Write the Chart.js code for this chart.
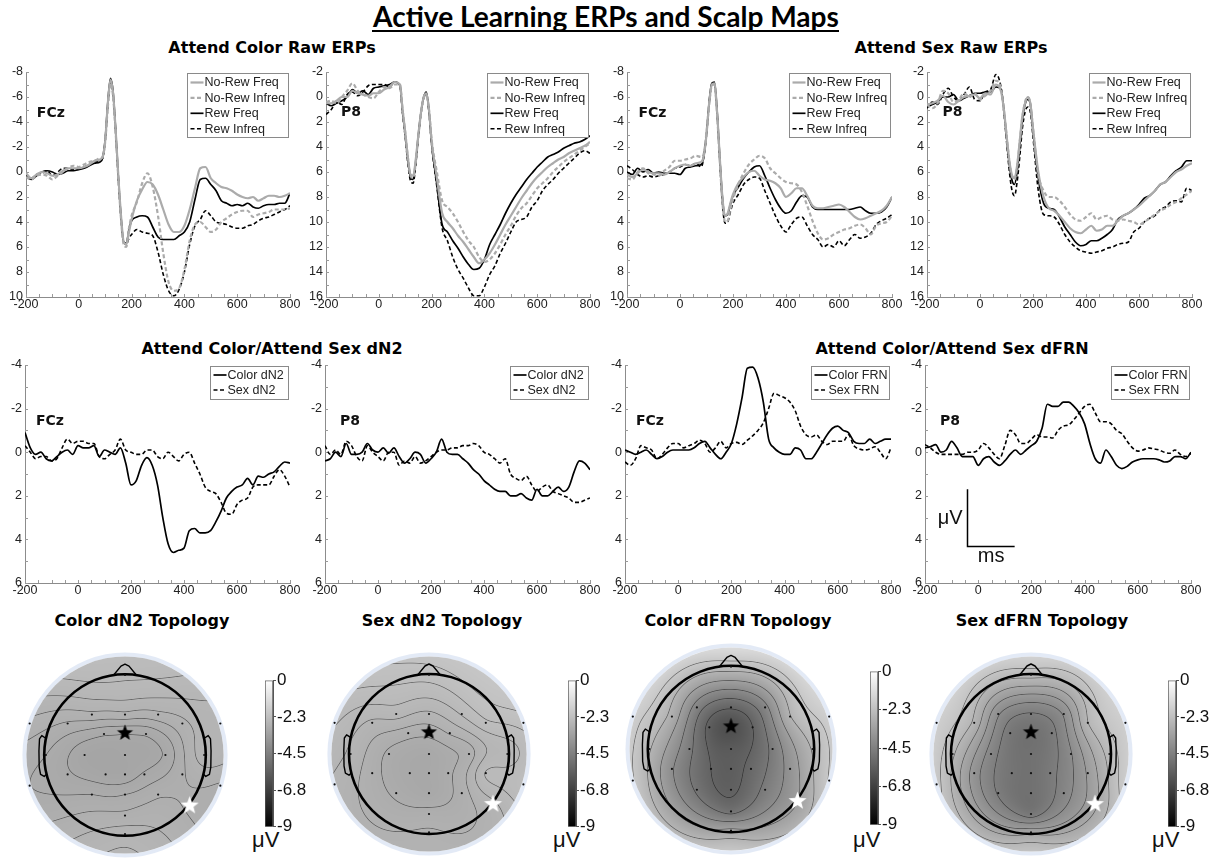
<!DOCTYPE html>
<html><head><meta charset="utf-8">
<script src="https://cdn.jsdelivr.net/npm/chart.js@4.4.1/dist/chart.umd.min.js"></script>
<style>
html,body{margin:0;padding:0;background:#fff}
body{position:relative;width:1211px;height:865px;overflow:hidden}
.hd{position:absolute;font:bold 16px "DejaVu Sans",sans-serif;line-height:16px;color:#000;white-space:nowrap;text-align:center}
.uv{position:absolute;font:22px "Liberation Sans",Arial,sans-serif;line-height:22px;color:#111;white-space:nowrap}
#mt{position:absolute;left:306px;width:600px;text-align:center;top:0px;font:bold 24px Lato,sans-serif;line-height:normal;white-space:nowrap;color:#000}
#mt span{display:inline-block}
#ul{position:absolute;left:372px;top:30px;width:467px;height:2px;background:#000}
</style></head>
<body>
<div id="mt"><span id="mtx">Active Learning ERPs and Scalp Maps</span><span id="mbl" style="width:0;height:0;vertical-align:baseline"></span></div>
<div id="ul"></div>
<div class="hd" style="left:62px;top:40px;width:420px">Attend Color Raw ERPs</div>
<div class="hd" style="left:741px;top:40px;width:420px">Attend Sex Raw ERPs</div>
<div class="hd" style="left:62px;top:341px;width:420px">Attend Color/Attend Sex dN2</div>
<div class="hd" style="left:742px;top:341px;width:420px">Attend Color/Attend Sex dFRN</div>
<div class="hd" style="left:-8px;top:613px;width:300px">Color dN2 Topology</div>
<div class="hd" style="left:292px;top:613px;width:300px">Sex dN2 Topology</div>
<div class="hd" style="left:588px;top:613px;width:300px">Color dFRN Topology</div>
<div class="hd" style="left:892px;top:613px;width:300px">Sex dFRN Topology</div>
<div class="uv" style="left:252px;top:829px">μV</div>
<div class="uv" style="left:553px;top:829px">μV</div>
<div class="uv" style="left:853px;top:829px">μV</div>
<div class="uv" style="left:1152px;top:829px">μV</div>
<script>
// ---------- time bases (ms) ----------
const times1 = [-200,-180,-160,-140,-120,-100,-80,-60,-40,-20,0,20,40,60,80,
  90,100,110,120,130,140,150,160,170,180,190,200,
  220,240,260,280,300,320,340,360,380,400,420,440,460,480,500,520,540,560,580,600,620,640,660,680,700,720,740,760,780,800];
const times2 = [-200,-180,-160,-140,-120,-100,-80,-60,-40,-20,0,20,40,60,80,100,120,140,160,180,
  200,220,240,260,280,300,320,340,360,380,400,420,440,460,480,500,520,540,560,580,
  600,620,640,660,680,700,720,740,760,780,800];

// ---------- Attend Color raw ERPs (µV) ----------
const colFCzNoRewFreq = [0.1,0.5,0.2,0.0,0.1,0.3,0.2,-0.1,-0.3,-0.3,-0.3,-0.4,-0.6,-0.9,-1.0,
  -1.2,-2.5,-5.5,-7.4,-6.3,-3.2,0.4,3.5,5.6,5.8,4.8,3.8,
  2.3,1.4,0.8,1.0,1.8,3.0,4.2,4.8,4.8,4.3,3.0,1.3,-0.3,-0.4,0.5,0.9,1.2,1.3,1.5,1.8,2.0,2.1,2.0,2.3,2.1,1.9,1.9,2.0,1.9,1.7];
const colFCzNoRewInfreq = [0.4,0.6,0.3,0.2,0.3,0.6,0.3,0.0,-0.3,-0.5,-0.4,-0.6,-0.8,-0.9,-1.1,
  -1.2,-2.4,-5.2,-7.1,-6.0,-3.0,0.6,3.8,5.8,6.0,4.5,3.5,
  2.4,0.9,0.1,1.2,3.5,6.5,8.8,9.5,9.3,7.8,5.5,4.2,4.0,4.4,4.8,4.6,4.0,3.7,3.4,3.2,3.1,3.1,3.6,3.4,3.3,3.2,3.0,3.0,3.0,2.9];
const colFCzRewFreq = [0.3,0.6,0.3,0.0,-0.1,0.0,0.2,0.1,-0.1,-0.1,-0.2,-0.3,-0.5,-0.7,-0.8,
  -1.1,-2.6,-5.6,-7.5,-6.4,-3.2,0.5,3.6,5.6,5.7,4.6,3.9,
  3.6,3.5,3.6,4.4,5.2,5.4,5.4,5.4,5.1,4.8,4.0,2.2,0.6,0.5,1.0,1.5,2.3,2.5,2.7,2.6,2.7,2.5,2.8,2.9,2.7,2.6,2.6,2.5,2.5,1.7];
const colFCzRewInfreq = [0.2,0.5,0.2,0.1,-0.1,0.3,0.0,-0.3,-0.3,-0.2,-0.2,-0.4,-0.6,-0.8,-0.9,
  -1.1,-2.5,-5.3,-7.2,-6.2,-3.1,0.6,3.7,5.6,5.8,5.3,5.0,
  4.6,4.8,4.9,5.1,6.4,8.2,9.5,9.9,9.4,8.0,5.8,4.3,3.8,3.1,3.5,4.0,4.1,4.2,4.4,4.5,4.5,4.3,4.2,3.9,3.7,3.6,3.4,3.2,3.0,2.7];

const colP8NoRewFreq = [0.5,0.5,0.3,0.0,0.0,-0.5,-0.3,-0.2,-0.1,-0.3,-0.3,-0.6,-0.8,-1.2,-1.0,
  1.0,2.8,4.8,6.2,6.3,5.0,3.0,1.2,0.0,-0.3,1.0,3.5,
  6.5,9.3,10.0,10.5,11.1,11.6,12.2,12.8,13.3,13.0,12.5,11.8,11.0,10.2,9.5,8.8,8.1,7.5,6.9,6.4,6.0,5.6,5.3,5.0,4.8,4.5,4.3,4.1,3.9,3.6];
const colP8NoRewInfreq = [0.4,0.3,0.5,0.0,-0.5,-1.1,-0.5,-0.2,0.0,0.1,-0.4,-0.8,-0.7,-1.0,-1.0,
  1.0,2.8,4.8,6.3,6.5,5.2,3.1,1.3,0.1,-0.2,1.0,3.4,
  6.0,8.3,8.8,9.3,10.0,10.8,11.5,12.0,12.8,13.2,13.0,12.5,11.8,11.0,10.3,9.5,8.9,8.5,7.9,7.3,6.9,6.5,6.0,5.6,5.2,4.9,4.6,4.3,4.0,3.7];
const colP8RewFreq = [0.5,0.7,0.5,0.3,0.0,-0.6,-0.3,-0.5,-0.2,-0.7,-0.8,-0.9,-1.0,-1.2,-0.9,
  1.2,3.0,5.0,6.4,6.6,5.2,3.0,1.2,0.0,-0.4,1.1,3.7,
  7.0,10.2,10.8,11.5,12.1,12.8,13.4,13.8,13.7,13.0,11.8,11.0,10.2,9.3,8.5,7.8,7.2,6.6,6.1,5.6,5.2,4.8,4.6,4.4,4.1,3.9,3.7,3.6,3.4,3.1];
const colP8RewInfreq = [1.4,1.0,0.4,0.6,-0.2,-0.4,-0.1,-0.4,-0.9,-1.0,-1.0,-1.0,-0.8,-1.2,-0.9,
  1.3,3.2,5.3,6.7,6.9,5.4,3.2,1.3,0.1,-0.2,1.2,3.8,
  7.2,10.5,11.5,12.8,13.8,14.5,15.3,15.9,15.9,15.2,14.2,13.5,12.5,11.7,10.8,10.0,9.8,9.6,8.8,8.3,7.5,7.0,6.6,6.1,5.7,5.3,4.9,4.5,4.3,4.5];

// ---------- Attend Sex raw ERPs (µV) ----------
const sexFCzNoRewFreq = [0.2,0.4,0.1,-0.2,0.0,0.1,0.1,0.2,0.0,-0.3,-0.5,-0.6,-0.5,-0.7,-0.8,
  -1.3,-3.0,-5.5,-7.0,-7.1,-4.8,-1.2,2.0,3.5,3.3,2.5,1.8,
  0.9,0.4,0.0,-0.1,0.3,0.6,0.7,0.9,1.3,2.0,1.7,1.3,1.3,1.9,2.7,2.9,2.9,2.8,2.7,2.6,2.8,3.2,3.6,3.8,3.7,3.5,3.3,3.1,2.7,2.0];
const sexFCzNoRewInfreq = [0.5,0.6,0.0,-0.3,0.1,0.2,0.3,-0.1,-0.4,-0.9,-0.9,-1.0,-1.1,-1.3,-1.2,
  -1.5,-3.2,-5.4,-6.9,-7.0,-4.6,-0.9,2.4,4.0,3.9,3.0,2.2,
  1.0,0.1,-0.6,-1.0,-1.3,-1.1,-0.3,0.1,0.5,0.8,0.9,1.0,1.6,2.7,3.9,4.9,5.4,5.3,5.0,4.8,4.6,4.5,4.3,4.2,4.5,5.0,4.3,4.1,4.0,3.5];
const sexFCzRewFreq = [0.0,0.2,-0.3,0.0,-0.2,0.1,0.0,0.1,0.1,0.1,0.2,-0.3,-0.4,-0.5,-0.6,
  -1.3,-3.0,-5.6,-7.1,-7.2,-4.9,-1.2,2.0,3.5,3.4,2.6,1.9,
  1.2,0.5,0.0,-0.4,-0.5,0.3,1.3,2.2,2.9,3.3,3.1,2.4,1.9,2.0,2.8,3.0,3.0,3.0,3.0,3.0,3.0,3.0,2.9,2.8,3.1,3.3,3.3,3.2,2.8,2.0];
const sexFCzRewInfreq = [-0.5,-0.2,0.2,0.4,0.3,0.4,0.3,0.2,0.0,-0.3,-0.4,-0.6,-0.5,-0.7,-0.4,
  -1.2,-3.0,-5.5,-7.0,-7.0,-4.7,-0.9,2.5,4.1,4.0,3.2,2.5,
  1.8,1.0,0.6,0.4,0.5,1.5,2.5,3.5,4.3,4.8,4.2,3.7,3.6,4.3,5.0,5.4,6.0,5.8,6.0,5.5,5.9,5.4,5.0,5.3,5.2,4.9,4.2,3.9,3.7,3.4];

const sexP8NoRewFreq = [0.6,0.5,0.3,-0.1,0.4,0.6,0.3,0.0,-0.1,-0.2,0.1,-0.3,-0.2,-1.0,-0.4,
  1.0,3.0,5.0,6.2,6.5,5.5,3.5,1.5,0.5,0.0,0.5,2.5,
  6.0,8.0,8.9,9.1,9.5,10.0,10.5,10.8,10.9,10.6,10.3,10.7,10.6,10.3,10.3,9.9,9.5,9.3,9.0,8.7,8.3,7.9,7.5,7.0,6.8,6.4,6.0,5.8,5.5,5.3];
const sexP8NoRewInfreq = [0.6,0.9,0.5,-0.5,-0.3,0.4,0.2,-0.3,0.0,-0.3,0.2,-0.1,-0.5,-1.3,-0.6,
  1.0,3.0,5.0,6.3,6.6,5.6,3.6,1.6,0.4,0.0,0.5,2.5,
  6.2,7.5,8.0,8.0,8.3,8.8,9.4,9.8,9.9,9.6,9.3,9.8,9.6,9.5,9.8,9.9,9.8,9.9,10.0,10.2,10.0,9.7,9.4,9.1,8.9,8.6,8.4,8.1,7.8,7.5];
const sexP8RewFreq = [0.8,0.6,0.4,0.0,0.0,-0.2,0.3,0.1,-0.1,-0.3,-0.3,-0.4,-0.4,-0.8,-0.6,
  1.0,3.2,5.3,6.6,7.0,6.0,4.0,1.8,0.6,0.2,0.6,2.7,
  6.5,8.5,8.9,9.0,9.6,10.4,11.0,11.6,11.9,11.8,11.5,11.5,11.3,11.0,10.6,9.8,9.5,9.3,9.0,8.6,8.1,7.9,7.5,7.0,6.8,6.3,5.9,5.6,5.1,5.1];
const sexP8RewInfreq = [0.9,0.4,0.6,-0.2,-0.7,0.0,0.3,-0.2,-0.8,0.2,0.3,-0.4,-0.6,-1.8,-0.7,
  1.2,3.5,5.8,7.4,7.9,6.8,4.8,2.5,1.2,0.8,1.2,3.2,
  7.5,9.4,9.5,9.6,10.2,11.0,11.6,12.0,12.3,12.4,12.5,12.4,12.3,12.1,12.0,11.8,11.7,11.6,10.8,10.5,10.0,9.7,9.5,9.0,8.8,8.4,8.3,8.4,7.3,7.5];

// ---------- difference waves (µV) ----------
const dn2FCzColor = [-0.9,-0.2,0.1,0.0,0.3,0.4,0.2,0.0,-0.1,0.1, -0.3,-0.2,-0.2,-0.3,0.2,-0.1,0.0,0.1,-0.2,0.5,
  1.5,1.3,0.6,0.25,0.6,1.5,3.0,4.2,4.6,4.5, 4.4,3.6,3.5,3.7,3.7,3.6,3.2,2.7,2.1,1.8,
  1.6,1.5,1.2,1.5,1.1,1.15,1.0,0.9,0.65,0.45, 0.5];
const dn2FCzSex = [-0.3,0.0,0.3,0.2,0.2,0.4,0.3,-0.2,-0.6,-0.4, -0.5,-0.5,-0.4,-0.4,0.2,0.3,0.1,-0.1,-0.6,-0.1,
  0.0,0.1,0.1,-0.1,-0.1,0.2,0.3,0.0,0.2,0.4, 0.1,0.0,0.5,1.0,1.6,1.8,1.9,2.3,2.8,2.85,
  2.4,2.2,2.1,1.6,1.5,1.5,1.5,1.1,0.8,1.1, 1.6];
const dn2P8Color = [0.4,0.3,0.0,0.2,-0.4,0.1,0.1,0.0,-0.4,-0.1, 0.0,-0.2,0.05,-0.2,0.2,0.5,0.3,0.0,0.1,0.5,
  0.3,0.0,-0.6,0.0,0.1,0.1,0.3,0.5,0.8,1.0, 1.3,1.5,1.7,1.8,1.8,2.0,2.0,1.9,2.1,2.2,
  1.7,2.0,2.0,1.8,1.6,1.8,1.6,0.9,0.4,0.5, 0.8];
const dn2P8Sex = [-0.3,0.1,-0.1,0.1,-0.5,-0.3,0.2,0.4,-0.3,0.0, 0.2,0.4,0.0,0.0,0.6,0.4,0.5,0.2,0.5,0.4,
  0.2,0.0,-0.1,-0.1,-0.2,-0.2,-0.3,-0.3,-0.4,-0.3, 0.0,0.1,0.3,0.5,0.3,1.0,1.2,1.3,1.1,1.5,
  1.8,1.6,1.5,1.8,1.9,2.0,2.1,2.3,2.3,2.2, 2.1];
const frnFCzColor = [-0.1,0.0,0.1,0.0,-0.1,0.1,0.3,0.2,0.0,-0.1, -0.1,-0.1,-0.1,-0.2,-0.4,-0.5,-0.2,0.1,0.3,0.0,
  -0.4,-1.3,-2.5,-3.85,-3.9,-3.4,-2.3,-0.6,-0.2,0.0, 0.1,0.1,-0.2,-0.1,0.3,0.3,0.0,-0.4,-0.8,-1.1,
  -1.2,-1.0,-0.9,-0.5,-0.4,-0.4,-0.6,-0.4,-0.5,-0.6, -0.6];
const frnFCzSex = [0.45,0.6,0.3,-0.3,-0.2,-0.1,0.3,0.1,-0.2,-0.4, -0.4,-0.2,-0.3,-0.4,-0.55,-0.4,0.0,-0.2,-0.5,-0.2,
  -0.4,-0.45,-0.35,-0.55,-0.75,-1.0,-1.35,-2.0,-2.7,-2.6, -2.5,-2.3,-1.9,-1.2,-0.8,-0.7,-0.8,-0.5,-0.35,-0.5,
  -0.5,-0.5,-0.8,-0.3,-0.15,-0.1,-0.15,-0.25,0.0,0.3, -0.2];
const frnP8Color = [-0.2,-0.25,-0.35,0.0,-0.1,-0.5,-0.2,0.2,0.2,0.2, 0.6,0.3,0.2,0.45,0.6,0.4,0.1,-0.1,0.1,-0.1,
  -0.3,-0.5,-1.1,-2.2,-2.1,-2.1,-2.3,-2.3,-2.1,-1.8, -1.3,-0.4,0.3,0.5,-0.1,0.2,0.6,0.75,0.65,0.45,
  0.35,0.3,0.3,0.3,0.35,0.45,0.4,0.2,0.2,0.3, 0.0];
const frnP8Sex = [-0.35,-0.2,0.0,0.1,0.1,0.1,0.1,0.1,0.0,0.0, -0.1,-0.4,-0.2,0.1,0.3,-0.3,-1.0,-0.8,-0.4,-0.4,
  -0.6,-0.8,-0.7,-0.7,-0.65,-1.0,-1.2,-1.25,-1.5,-1.8, -2.1,-2.2,-1.8,-1.4,-1.4,-1.3,-1.0,-0.85,-0.5,-0.2,
  -0.05,-0.1,-0.2,-0.15,-0.1,0.0,0.05,-0.1,0.1,0.2, 0.05];

const rawLabels = ['No-Rew Freq','No-Rew Infreq','Rew Freq','Rew Infreq'];
const dn2Labels = ['Color dN2','Sex dN2'];
const frnLabels = ['Color FRN','Sex FRN'];

// ---------- scalp electrodes (unit = head radius, +y = nose) ----------
const elecName = ['Fp','F3','Fz','F4','FT9','F7','F8','FT10','FC1','FCz','FC2','T7','C3','Cz','C4','T8',
  'CP5','CP1','CPz','CP2','CP6','TP9','TP10','P3','Pz','P4','P8','POz','Oz'];
const elecX = [0,-0.41,0,0.41,-1.18,-0.71,0.71,1.18,-0.26,0,0.26,-0.98,-0.5,0,0.5,0.98,
  -0.71,-0.24,0,0.24,0.71,-1.18,1.18,-0.41,0,0.41,0.8,0,0];
const elecY = [0.99,0.5,0.5,0.5,0.39,0.39,0.39,0.39,0.26,0.28,0.26,0,0,0,0,0,
  -0.24,-0.24,-0.24,-0.24,-0.24,-0.38,-0.38,-0.49,-0.49,-0.49,-0.62,-0.75,-0.98];
const topoColorDN2 = [-2.45,-2.75,-2.75,-2.75,-2.75,-2.85,-2.75,-2.65,-3.05,-3.05,-3.05,-2.95,-3.15,-3.15,-3.05,-2.65,
  -3.05,-3.15,-3.15,-3.05,-2.85,-2.95,-2.85,-2.95,-2.95,-2.85,-2.85,-2.8,-2.65];
const topoSexDN2 = [-2.25,-2.55,-2.65,-2.45,-2.45,-2.65,-2.35,-2.25,-2.85,-2.85,-2.75,-2.65,-2.95,-3.05,-2.85,-2.55,
  -2.85,-3.05,-3.05,-2.95,-2.45,-2.65,-2.35,-2.95,-3.05,-2.85,-2.65,-2.85,-2.75];
const topoColorFRN = [-2.3,-4.4,-5.4,-4.3,-1.7,-2.9,-2.7,-1.7,-5.7,-6.2,-5.5,-2.6,-4.6,-5.8,-4.6,-2.6,
  -4.0,-5.5,-5.7,-5.3,-3.8,-1.9,-1.9,-4.9,-5.6,-4.6,-3.4,-5.0,-3.2];
const topoSexFRN = [-2.4,-4.0,-4.6,-4.0,-1.7,-2.7,-2.6,-1.7,-4.8,-5.0,-4.7,-2.5,-4.3,-5.0,-4.1,-2.4,
  -3.8,-4.9,-5.0,-4.7,-3.5,-1.9,-1.8,-4.6,-5.0,-4.3,-3.2,-4.8,-3.2];
const starBlack = 'FCz', starWhite = 'P8';

// colour bar
const cbMin = -9, cbMax = 0;
const cbTicks = [-9,-6.75,-4.5,-2.25,0];
const cbLabels = ['-9','-6.8','-4.5','-2.3','0'];

// ---------- main title: fit width, put baseline at y=27 ----------
(function(){
  const mt = document.getElementById('mt');
  const s = document.getElementById('mtx');
  const w = s.getBoundingClientRect().width;
  mt.style.fontSize = (24 * 466 / w) + 'px';
  mt.style.top = '0px';
  const b = document.getElementById('mbl').getBoundingClientRect().bottom;
  mt.style.top = (27 - b) + 'px';
})();

Chart.defaults.font.family = '"Liberation Sans", Arial, sans-serif';
Chart.defaults.color = '#222';

// ---------- plugins ----------
const innerTicks = {
  id: 'innerTicks',
  beforeDatasetsDraw(chart) {
    const {ctx, chartArea: a, scales: {x, y}} = chart;
    ctx.save();
    ctx.strokeStyle = '#9a9a9a'; ctx.lineWidth = 1;
    ctx.beginPath();
    x.ticks.forEach(t => {
      const px = Math.round(x.getPixelForValue(t.value)) + 0.5;
      ctx.moveTo(px, a.bottom); ctx.lineTo(px, a.bottom - 3);
    });
    y.ticks.forEach(t => {
      const py = Math.round(y.getPixelForValue(t.value)) + 0.5;
      ctx.moveTo(a.left, py); ctx.lineTo(a.left + 3, py);
    });
    ctx.stroke();
    ctx.restore();
  }
};

const boxLegend = {
  id: 'boxLegend',
  afterDatasetsDraw(chart, args, o) {
    if (!o || !o.w) return;
    const {ctx, chartArea: a} = chart;
    const ds = chart.data.datasets;
    const x0 = Math.round(a.right - o.w - 2) + 0.5, y0 = Math.round(a.top + 1) + 0.5;
    ctx.save();
    ctx.fillStyle = '#fff';
    ctx.fillRect(x0, y0, o.w, o.h);
    ctx.strokeStyle = '#8a8a8a'; ctx.lineWidth = 1;
    ctx.strokeRect(x0, y0, o.w, o.h);
    ctx.font = '12.5px "Liberation Sans", Arial, sans-serif';
    ctx.textBaseline = 'middle';
    ds.forEach((d, i) => {
      const yy = y0 + o.first + i * o.row;
      ctx.beginPath();
      ctx.setLineDash(d.borderDash || []);
      ctx.strokeStyle = d.borderColor; ctx.lineWidth = d.borderWidth;
      ctx.moveTo(x0 + 3, yy); ctx.lineTo(x0 + 16, yy); ctx.stroke();
      ctx.setLineDash([]);
      ctx.fillStyle = '#222';
      ctx.fillText(d.label, x0 + 17, yy + 0.5);
    });
    ctx.restore();
  }
};

const siteLabel = {
  id: 'siteLabel',
  afterDatasetsDraw(chart, args, o) {
    if (!o || !o.text) return;
    const {ctx, scales: {x, y}} = chart;
    ctx.save();
    ctx.font = 'bold 14px "DejaVu Sans", sans-serif';
    ctx.fillStyle = '#111'; ctx.textAlign = 'center'; ctx.textBaseline = 'middle';
    ctx.fillText(o.text, x.getPixelForValue(o.x), y.getPixelForValue(o.y));
    ctx.restore();
  }
};

const scaleBar = {
  id: 'scaleBar',
  afterDatasetsDraw(chart, args, o) {
    if (!o || !o.show) return;
    const {ctx, scales: {x, y}} = chart;
    const px0 = Math.round(x.getPixelForValue(o.x0)) + 0.5, px1 = x.getPixelForValue(o.x1);
    const pyT = y.getPixelForValue(o.yTop), pyB = Math.round(y.getPixelForValue(o.yBot)) + 0.5;
    ctx.save();
    ctx.strokeStyle = '#000'; ctx.lineWidth = 1.5;
    ctx.beginPath(); ctx.moveTo(px0, pyT); ctx.lineTo(px0, pyB); ctx.lineTo(px1, pyB); ctx.stroke();
    ctx.fillStyle = '#111';
    ctx.font = '20px "Liberation Sans", Arial, sans-serif';
    ctx.textAlign = 'right'; ctx.textBaseline = 'middle';
    ctx.fillText('μV', px0 - 5, (pyT + pyB) / 2 + 1);
    ctx.textAlign = 'center'; ctx.textBaseline = 'top';
    ctx.fillText('ms', (px0 + px1) / 2, pyB);
    ctx.restore();
  }
};

// ---------- ERP panels ----------
const styles = {
  greySolid: {color: '#ababab', width: 2.2, dash: []},
  greyDash:  {color: '#ababab', width: 2.2, dash: [4, 2.5]},
  blackSolid:{color: '#000', width: 1.7, dash: []},
  blackDash: {color: '#000', width: 1.6, dash: [4, 2.5]}
};

function erpPanel(o) {
  const [pl, pr, pt, pb] = o.box;
  const padTop = 14;
  const L = pl - 28, T = pt - padTop, W = pr - pl + 40, H = pb - pt + padTop + 20;
  const cv = document.createElement('canvas');
  cv.width = W; cv.height = H;
  cv.style.cssText = `position:absolute;left:${L}px;top:${T}px;width:${W}px;height:${H}px`;
  document.body.appendChild(cv);
  const tickFont = {size: 12.5};
  new Chart(cv, {
    type: 'line',
    data: {
      datasets: o.series.map((s, k) => ({
        label: o.labels[k],
        data: o.times.map((t, i) => ({x: t, y: s.values[i]})),
        borderColor: s.style.color, borderWidth: s.style.width, borderDash: s.style.dash,
        pointRadius: 0, fill: false, cubicInterpolationMode: 'monotone'
      }))
    },
    options: {
      responsive: false, animation: false, devicePixelRatio: 1,
      layout: {padding: {top: padTop, right: 12, left: 0, bottom: 0}},
      scales: {
        x: {
          type: 'linear', min: -200, max: 800,
          afterFit: s => { s.height = 20; },
          ticks: {stepSize: 50, maxTicksLimit: 100, autoSkip: false, maxRotation: 0, padding: 0, font: tickFont, color: '#222',
                  callback: v => (v % 200 === 0 ? String(v) : '')},
          grid: {display: false, drawTicks: false, tickLength: 0},
          border: {display: true, color: '#8c8c8c'}
        },
        y: {
          type: 'linear', reverse: true, min: o.yMin, max: o.yMax,
          afterFit: s => { s.width = 28; },
          ticks: {stepSize: 1, maxTicksLimit: 100, autoSkip: false, padding: 3, font: tickFont, color: '#222',
                  callback: v => (v % 2 === 0 ? String(v) : '')},
          grid: {display: false, drawTicks: false, tickLength: 0},
          border: {display: true, color: '#8c8c8c'}
        }
      },
      plugins: {
        legend: {display: false}, tooltip: {enabled: false},
        boxLegend: o.legend, siteLabel: o.site, scaleBar: o.bar || {show: false}
      }
    },
    plugins: [innerTicks, boxLegend, siteLabel, scaleBar]
  });
}

const legRaw = {w: 101, h: 64, first: 9, row: 15.4};
const legDiff = {w: 78, h: 33, first: 8.5, row: 15};
const rawStyles = [styles.greySolid, styles.greyDash, styles.blackSolid, styles.blackDash];

erpPanel({box: [26, 290, 72, 297], times: times1, yMin: -8, yMax: 10, labels: rawLabels, legend: legRaw,
  site: {text: 'FCz', x: -106, y: -4.7},
  series: [colFCzNoRewFreq, colFCzNoRewInfreq, colFCzRewFreq, colFCzRewInfreq].map((v, k) => ({values: v, style: rawStyles[k]}))});
erpPanel({box: [326, 590, 72, 297], times: times1, yMin: -2, yMax: 16, labels: rawLabels, legend: legRaw,
  site: {text: 'P8', x: -105, y: 1.25},
  series: [colP8NoRewFreq, colP8NoRewInfreq, colP8RewFreq, colP8RewInfreq].map((v, k) => ({values: v, style: rawStyles[k]}))});
erpPanel({box: [627, 892, 72, 297], times: times1, yMin: -8, yMax: 10, labels: rawLabels, legend: legRaw,
  site: {text: 'FCz', x: -104, y: -4.7},
  series: [sexFCzNoRewFreq, sexFCzNoRewInfreq, sexFCzRewFreq, sexFCzRewInfreq].map((v, k) => ({values: v, style: rawStyles[k]}))});
erpPanel({box: [927, 1192, 72, 297], times: times1, yMin: -2, yMax: 16, labels: rawLabels, legend: legRaw,
  site: {text: 'P8', x: -104, y: 1.25},
  series: [sexP8NoRewFreq, sexP8NoRewInfreq, sexP8RewFreq, sexP8RewInfreq].map((v, k) => ({values: v, style: rawStyles[k]}))});

const diffStyles = [styles.blackSolid, styles.blackDash];
erpPanel({box: [25, 290, 365, 583], times: times2, yMin: -4, yMax: 6, labels: dn2Labels, legend: legDiff,
  site: {text: 'FCz', x: -106, y: -1.4},
  series: [dn2FCzColor, dn2FCzSex].map((v, k) => ({values: v, style: diffStyles[k]}))});
erpPanel({box: [325, 590, 365, 583], times: times2, yMin: -4, yMax: 6, labels: dn2Labels, legend: legDiff,
  site: {text: 'P8', x: -106, y: -1.4},
  series: [dn2P8Color, dn2P8Sex].map((v, k) => ({values: v, style: diffStyles[k]}))});
erpPanel({box: [625, 891, 365, 583], times: times2, yMin: -4, yMax: 6, labels: frnLabels, legend: legDiff,
  site: {text: 'FCz', x: -106, y: -1.4},
  series: [frnFCzColor, frnFCzSex].map((v, k) => ({values: v, style: diffStyles[k]}))});
erpPanel({box: [925, 1191, 365, 583], times: times2, yMin: -4, yMax: 6, labels: frnLabels, legend: legDiff,
  site: {text: 'P8', x: -106, y: -1.4},
  bar: {show: true, x0: -42, x1: 137, yTop: 1.7, yBot: 4.3},
  series: [frnP8Color, frnP8Sex].map((v, k) => ({values: v, style: diffStyles[k]}))});

// ---------- scalp maps ----------
function starImage(r, fill) {
  const c = document.createElement('canvas');
  const s = Math.ceil(r * 2 + 2);
  c.width = c.height = s;
  const g = c.getContext('2d');
  g.beginPath();
  for (let k = 0; k < 10; k++) {
    const a = -Math.PI / 2 + k * Math.PI / 5;
    const rr = k % 2 === 0 ? r : r * 0.42;
    g.lineTo(s / 2 + rr * Math.cos(a), s / 2 + rr * Math.sin(a) + 0.6);
  }
  g.closePath();
  g.fillStyle = fill; g.fill();
  return c;
}
const blackStarImg = starImage(8.5, '#000');
const whiteStarImg = starImage(9.5, '#fff');

// thin-plate spline through the electrode values
function tpsFit(xs, ys, vs) {
  const n = xs.length, m = n + 3;
  const phi = d2 => (d2 < 1e-12 ? 0 : 0.5 * d2 * Math.log(d2));
  const A = [];
  for (let i = 0; i < m; i++) A.push(new Float64Array(m + 1));
  for (let i = 0; i < n; i++) {
    for (let j = 0; j < n; j++) {
      const dx = xs[i] - xs[j], dy = ys[i] - ys[j];
      A[i][j] = phi(dx * dx + dy * dy) + (i === j ? 0.002 : 0);
    }
    A[i][n] = 1; A[i][n + 1] = xs[i]; A[i][n + 2] = ys[i];
    A[n][i] = 1; A[n + 1][i] = xs[i]; A[n + 2][i] = ys[i];
    A[i][m] = vs[i];
  }
  for (let c = 0; c < m; c++) {
    let p = c;
    for (let r = c + 1; r < m; r++) if (Math.abs(A[r][c]) > Math.abs(A[p][c])) p = r;
    [A[c], A[p]] = [A[p], A[c]];
    for (let r = 0; r < m; r++) {
      if (r === c) continue;
      const f = A[r][c] / A[c][c];
      if (f === 0) continue;
      for (let k = c; k <= m; k++) A[r][k] -= f * A[c][k];
    }
  }
  const coef = new Float64Array(m);
  for (let i = 0; i < m; i++) coef[i] = A[i][m] / A[i][i];
  return (px, py) => {
    let s = coef[n] + coef[n + 1] * px + coef[n + 2] * py;
    for (let i = 0; i < n; i++) {
      const dx = px - xs[i], dy = py - ys[i];
      s += coef[i] * phi(dx * dx + dy * dy);
    }
    return s;
  };
}

const topoField = {
  id: 'topoField',
  beforeDatasetsDraw(chart, args, o) {
    const {ctx, scales: {x, y}} = chart;
    const cx = x.getPixelForValue(0), cy = y.getPixelForValue(0);
    const u = x.getPixelForValue(1) - cx;
    const R = o.diskR;
    const f = tpsFit(elecX, elecY, o.values);
    ctx.save();
    // pale rim around the interpolation disk
    ctx.beginPath(); ctx.arc(cx, cy, R * u + 2, 0, 2 * Math.PI);
    ctx.strokeStyle = 'rgba(226,233,246,0.95)'; ctx.lineWidth = 4; ctx.stroke();
    // interpolated potential field
    const x0 = Math.floor(cx - R * u) - 2, y0 = Math.floor(cy - R * u) - 2;
    const n = Math.ceil(2 * R * u) + 5;
    const val = new Float32Array(n * n), ins = new Uint8Array(n * n);
    let fmin = Infinity, fmax = -Infinity;
    for (let j = 0; j < n; j++) {
      for (let i = 0; i < n; i++) {
        const vx = x.getValueForPixel(x0 + i + 0.5), vy = y.getValueForPixel(y0 + j + 0.5);
        if (vx * vx + vy * vy > (R + 0.04) * (R + 0.04)) continue;
        const v = f(vx, vy);
        val[j * n + i] = v; ins[j * n + i] = 1;
        if (vx * vx + vy * vy <= R * R) { fmin = Math.min(fmin, v); fmax = Math.max(fmax, v); }
      }
    }
    const nLev = 7, step = (fmax - fmin) / nLev;
    const off = document.createElement('canvas'); off.width = off.height = n;
    const octx = off.getContext('2d');
    const img = octx.createImageData(n, n);
    for (let j = 1; j < n - 1; j++) {
      for (let i = 1; i < n - 1; i++) {
        const idx = j * n + i;
        if (!ins[idx]) continue;
        const v = val[idx];
        let g = 255 * (v - cbMin) / (cbMax - cbMin);
        g = Math.max(0, Math.min(255, g));
        // contour lines: distance (px) to the nearest level
        const gx = ins[idx + 1] && ins[idx - 1] ? (val[idx + 1] - val[idx - 1]) / 2 : 0;
        const gy = ins[idx + n] && ins[idx - n] ? (val[idx + n] - val[idx - n]) / 2 : 0;
        const gm = Math.hypot(gx, gy);
        const t = (v - fmin) / step, k = Math.round(t);
        if (gm > 1e-6 && k >= 1 && k < nLev) {
          const dpx = Math.abs(t - k) * step / gm;
          const a = Math.max(0, 1 - dpx / 0.8);
          g = g * (1 - 0.42 * a);
        }
        const p = idx * 4;
        img.data[p] = g; img.data[p + 1] = g; img.data[p + 2] = g; img.data[p + 3] = 255;
      }
    }
    octx.putImageData(img, 0, 0);
    ctx.save();
    ctx.beginPath(); ctx.arc(cx, cy, R * u, 0, 2 * Math.PI); ctx.clip();
    ctx.drawImage(off, x0, y0);
    ctx.restore();
    // head outline, nose and ears
    const P = (a, b) => [x.getPixelForValue(a), y.getPixelForValue(b)];
    ctx.strokeStyle = '#000'; ctx.lineJoin = 'round'; ctx.lineCap = 'round';
    ctx.lineWidth = 1.4;
    const nose = [[-0.14, 0.99], [-0.05, 1.1], [0, 1.125], [0.05, 1.1], [0.14, 0.99]];
    ctx.beginPath(); nose.forEach((q, k) => { const [a, b] = P(q[0], q[1]); k ? ctx.lineTo(a, b) : ctx.moveTo(a, b); }); ctx.stroke();
    const ear = [[-0.985, 0.21], [-1.03, 0.24], [-1.058, 0.2], [-1.065, 0.05], [-1.062, -0.15], [-1.045, -0.24], [-1.0, -0.265], [-0.975, -0.24]];
    [1, -1].forEach(sg => {
      ctx.beginPath();
      ear.forEach((q, k) => { const [a, b] = P(sg * q[0], q[1]); k ? ctx.lineTo(a, b) : ctx.moveTo(a, b); });
      ctx.stroke();
    });
    ctx.lineWidth = 2.6;
    ctx.beginPath(); ctx.arc(cx, cy, u, 0, 2 * Math.PI); ctx.stroke();
    ctx.restore();
  }
};

function scalpMap(o) {
  const S = o.size;
  const cv = document.createElement('canvas');
  cv.width = cv.height = S;
  cv.style.cssText = `position:absolute;left:${o.cx - S / 2}px;top:${o.cy - S / 2}px;width:${S}px;height:${S}px`;
  document.body.appendChild(cv);
  const dotIdx = elecName.map((n, i) => i).filter(i => elecName[i] !== starBlack && elecName[i] !== starWhite);
  const bi = elecName.indexOf(starBlack), wi = elecName.indexOf(starWhite);
  new Chart(cv, {
    type: 'scatter',
    data: {datasets: [
      {data: dotIdx.map(i => ({x: elecX[i], y: elecY[i]})), pointRadius: 1.1, pointBackgroundColor: '#111', pointBorderWidth: 0},
      {data: [{x: elecX[bi], y: elecY[bi]}], pointStyle: blackStarImg},
      {data: [{x: elecX[wi], y: elecY[wi]}], pointStyle: whiteStarImg}
    ]},
    options: {
      responsive: false, animation: false, devicePixelRatio: 1,
      layout: {padding: 0},
      scales: {x: {display: false, min: -1.25, max: 1.25}, y: {display: false, min: -1.25, max: 1.25}},
      plugins: {legend: {display: false}, tooltip: {enabled: false}, topoField: {values: o.values, diskR: 1.22}}
    },
    plugins: [topoField]
  });
}

function colorBar(o) {
  const W = o.w + 42, H = o.bottom - o.top + 16;
  const cv = document.createElement('canvas');
  cv.width = W; cv.height = H;
  cv.style.cssText = `position:absolute;left:${o.left}px;top:${o.top - 8}px;width:${W}px;height:${H}px`;
  document.body.appendChild(cv);
  new Chart(cv, {
    type: 'bar',
    data: {labels: [''], datasets: [{
      data: [[cbMin, cbMax]],
      backgroundColor: c => {
        const ys = c.chart.scales.y;
        if (!ys) return '#888';
        const p0 = ys.getPixelForValue(cbMax), p1 = ys.getPixelForValue(cbMin);
        if (!isFinite(p0) || !isFinite(p1) || p0 === p1) return '#888';
        const g = c.chart.ctx.createLinearGradient(0, p0, 0, p1);
        g.addColorStop(0, '#fff'); g.addColorStop(1, '#000');
        return g;
      },
      borderColor: '#555', borderWidth: 1, borderSkipped: false,
      barPercentage: 1, categoryPercentage: 1
    }]},
    options: {
      responsive: false, animation: false, devicePixelRatio: 1,
      layout: {padding: {top: 8, bottom: 8, left: 0, right: 0}},
      scales: {
        x: {display: false},
        y: {position: 'right', min: cbMin, max: cbMax,
            afterFit: s => { s.width = 42; },
            afterBuildTicks: s => { s.ticks = cbTicks.map(v => ({value: v})); },
            ticks: {callback: (v, i) => cbLabels[i], font: {size: 17}, color: '#111', padding: 1},
            grid: {drawOnChartArea: false, tickLength: 3, color: '#555'},
            border: {display: true, color: '#555'}}
      },
      plugins: {legend: {display: false}, tooltip: {enabled: false}}
    }
  });
}

scalpMap({cx: 125, cy: 755, size: 212, values: topoColorDN2});
scalpMap({cx: 429, cy: 754, size: 210, values: topoSexDN2});
scalpMap({cx: 731, cy: 749, size: 218, values: topoColorFRN});
scalpMap({cx: 1031, cy: 754, size: 210, values: topoSexFRN});
colorBar({left: 265, w: 8, top: 677, bottom: 830});
colorBar({left: 568, w: 8, top: 677, bottom: 830});
colorBar({left: 870, w: 8, top: 668, bottom: 828});
colorBar({left: 1168, w: 8, top: 677, bottom: 830});
</script>
</body></html>
